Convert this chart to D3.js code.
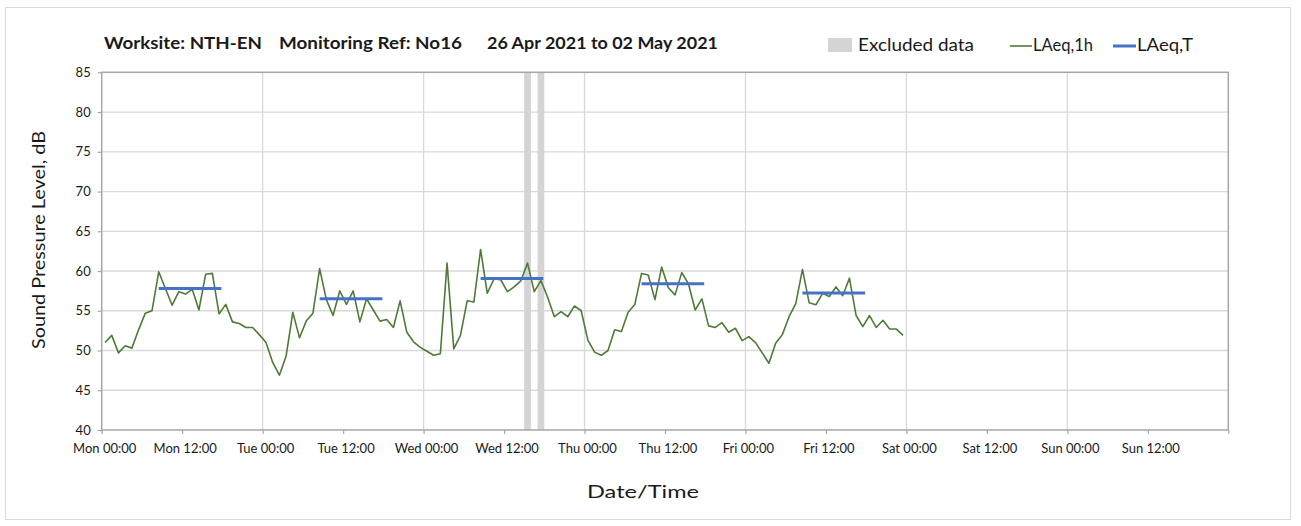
<!DOCTYPE html>
<html>
<head>
<meta charset="utf-8">
<script src="https://cdn.jsdelivr.net/npm/d3@7"></script>
<style>
  html, body { margin: 0; padding: 0; background: #fff; }
  svg { display: block; }
  text { font-family: Lato, "Open Sans", sans-serif; fill: #1a1a1a; }
</style>
</head>
<body>
<svg id="chart" width="1301" height="526"></svg>
<script>
// ---------------- DATA ----------------
const titleParts = ["Worksite: NTH-EN", "Monitoring Ref: No16", "26 Apr 2021 to 02 May 2021"];
const xTickLabels = ["Mon 00:00","Mon 12:00","Tue 00:00","Tue 12:00","Wed 00:00","Wed 12:00",
  "Thu 00:00","Thu 12:00","Fri 00:00","Fri 12:00","Sat 00:00","Sat 12:00","Sun 00:00","Sun 12:00"];
const yTicks = [40,45,50,55,60,65,70,75,80,85];
// hourly LAeq,1h from Mon 00:00 (hour index 0..119)
const laeq1h = [
  51.0,51.9,49.7,50.6,50.3,52.6,54.7,55.0,59.9,57.8,55.7,57.4,57.1,57.7,55.1,59.6,59.7,54.6,55.8,53.6,53.4,52.9,52.9,52.0,
  51.0,48.5,46.9,49.3,54.8,51.6,53.7,54.7,60.3,56.4,54.4,57.5,55.8,57.5,53.6,56.5,55.1,53.7,53.9,52.9,56.25,52.3,51.1,50.4,
  49.9,49.4,49.6,61.0,50.2,51.9,56.25,56.1,62.7,57.2,59.0,58.9,57.4,58.0,58.75,61.0,57.4,58.8,56.7,54.25,54.9,54.25,55.6,55.0,
  51.3,49.8,49.4,50.0,52.6,52.4,54.8,55.8,59.7,59.5,56.4,60.5,57.9,57.0,59.8,58.4,55.1,56.5,53.1,52.9,53.5,52.3,52.8,51.25,
  51.75,51.0,49.7,48.4,50.9,52.0,54.25,55.9,60.2,56.0,55.75,57.2,56.8,58.0,56.9,59.1,54.4,53.0,54.4,52.9,53.8,52.7,52.7,51.9
];
// daytime LAeq,T per day (Mon..Fri)
const laeqT = [57.8, 56.5, 59.05, 58.4, 57.25];
const laeqTStartHour = 8.5;
const laeqTEndHour = 17.85;
// excluded data periods (hours from Mon 00:00)
const excludedStart = [63, 65];
const excludedEnd = [64, 66];
const legendLabels = ["Excluded data", "LAeq,1h", "LAeq,T"];

// ---------------- LAYOUT ----------------
const svg = d3.select("#chart");
const L = 101.7, R = 1228.3, T = 72.3, B = 430;
const x = d3.scaleLinear().domain([0, 168]).range([L, R]);
const y = d3.scaleLinear().domain([40, 85]).range([B, T]);

// outer border
svg.append("rect").attr("x", 5.5).attr("y", 7.5).attr("width", 1285).attr("height", 512)
  .attr("fill", "#fff").attr("stroke", "#d9d9d9").attr("stroke-width", 1);

const g = svg.append("g");

// horizontal gridlines
g.selectAll(".hg").data(yTicks.filter(v => v > 40 && v < 85)).join("line")
  .attr("x1", L).attr("x2", R).attr("y1", d => y(d)).attr("y2", d => y(d))
  .attr("stroke", "#d9d9d9").attr("stroke-width", 1.3);
// vertical gridlines each day
const dayHours = d3.range(24, 168, 24);
g.selectAll(".vg").data(dayHours).join("line")
  .attr("x1", d => x(d)).attr("x2", d => x(d)).attr("y1", T).attr("y2", B)
  .attr("stroke", "#d9d9d9").attr("stroke-width", 1.3);

// excluded bands
g.selectAll(".ex").data(excludedStart).join("rect")
  .attr("x", (d) => x(d)).attr("width", (d, i) => x(excludedEnd[i]) - x(d))
  .attr("y", T).attr("height", B - T).attr("fill", "#d4d4d4");

// frame
g.append("rect").attr("x", L).attr("y", T).attr("width", R - L).attr("height", B - T)
  .attr("fill", "none").attr("stroke", "#a6a6a6").attr("stroke-width", 1.5);

// axes
const xTickHours = xTickLabels.map((d, i) => i * 12);
const xAxis = d3.axisBottom(x).tickValues(xTickHours.concat([168])).tickSize(4).tickFormat("");
const xg = g.append("g").attr("transform", `translate(0,${B})`).call(xAxis);
xg.select(".domain").remove();
xg.selectAll("line").attr("stroke", "#a6a6a6").attr("stroke-width", 1.2);

const xl = g.append("g");
xl.selectAll("text").data(xTickLabels).join("text")
  .attr("x", (d, i) => x(xTickHours[i]) + 3).attr("y", 453)
  .attr("text-anchor", "middle").attr("font-size", 13).text(d => d);

const yAxis = d3.axisLeft(y).tickValues(yTicks).tickSize(4).tickFormat(d3.format("d"));
const yg = g.append("g").attr("transform", `translate(${L},0)`).call(yAxis);
yg.select(".domain").remove();
yg.selectAll("line").attr("stroke", "#a6a6a6").attr("stroke-width", 1.2);
yg.selectAll("text").attr("x", -11).attr("font-size", 13).attr("fill", "#1a1a1a")
  .style("font-family", "Lato, 'Open Sans', sans-serif");

// LAeq,1h line
const line = d3.line().x((d, i) => x(i + 0.5)).y(d => y(d));
g.append("path").datum(laeq1h).attr("d", line)
  .attr("fill", "none").attr("stroke", "#4f7a38").attr("stroke-width", 1.6)
  .attr("stroke-linejoin", "round");

// LAeq,T segments
g.selectAll(".lt").data(laeqT).join("line")
  .attr("x1", (d, i) => x(i * 24 + laeqTStartHour)).attr("x2", (d, i) => x(i * 24 + laeqTEndHour))
  .attr("y1", d => y(d)).attr("y2", d => y(d))
  .attr("stroke", "#4472c4").attr("stroke-width", 3);

// title
const titleX = [104, 279, 487];
const titleW = [158, 183, 231];
svg.selectAll(".title").data(titleParts).join("text")
  .attr("x", (d, i) => titleX[i]).attr("y", 49)
  .attr("font-size", 17).attr("font-weight", "bold")
  .attr("textLength", (d, i) => titleW[i]).attr("lengthAdjust", "spacingAndGlyphs")
  .text(d => d);

// legend
svg.append("rect").attr("x", 828).attr("y", 38).attr("width", 24).attr("height", 14).attr("fill", "#d4d4d4");
svg.append("text").attr("x", 858).attr("y", 51).attr("font-size", 17)
  .attr("textLength", 116).attr("lengthAdjust", "spacingAndGlyphs").text(legendLabels[0]);
svg.append("line").attr("x1", 1010).attr("x2", 1032).attr("y1", 46).attr("y2", 46)
  .attr("stroke", "#4f7a38").attr("stroke-width", 1.6);
svg.append("text").attr("x", 1033).attr("y", 51).attr("font-size", 17)
  .attr("textLength", 60).attr("lengthAdjust", "spacingAndGlyphs").text(legendLabels[1]);
svg.append("line").attr("x1", 1113).attr("x2", 1136).attr("y1", 46).attr("y2", 46)
  .attr("stroke", "#4472c4").attr("stroke-width", 3);
svg.append("text").attr("x", 1137).attr("y", 51).attr("font-size", 17)
  .attr("textLength", 56).attr("lengthAdjust", "spacingAndGlyphs").text(legendLabels[2]);

// axis titles
svg.append("text").attr("x", 643).attr("y", 498).attr("text-anchor", "middle")
  .attr("font-size", 17).attr("textLength", 112).attr("lengthAdjust", "spacingAndGlyphs")
  .text("Date/Time");
svg.append("text").attr("transform", "translate(45,240) rotate(-90)").attr("text-anchor", "middle")
  .attr("font-size", 17.5).attr("textLength", 218).attr("lengthAdjust", "spacingAndGlyphs")
  .text("Sound Pressure Level, dB");
</script>
</body>
</html>
